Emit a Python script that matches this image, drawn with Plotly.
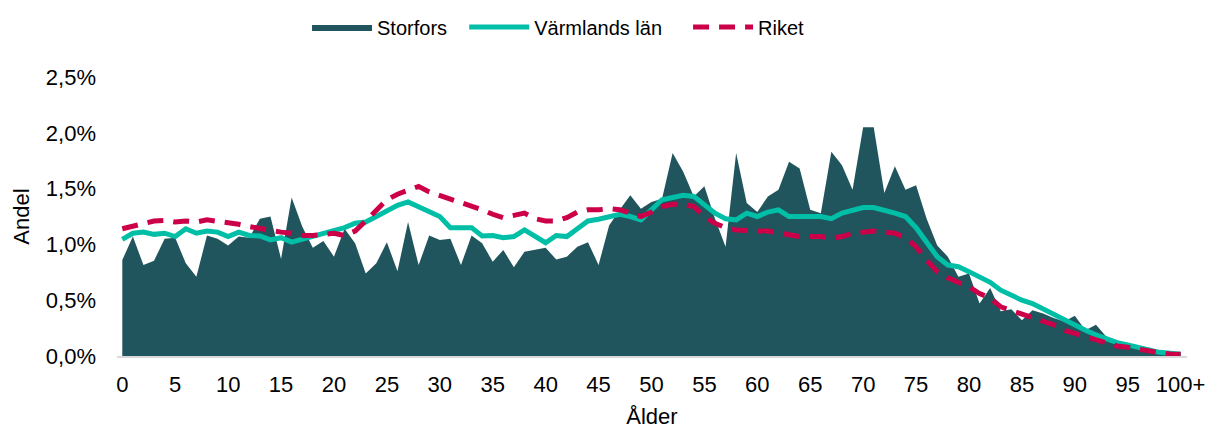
import plotly.graph_objects as go

ages = list(range(0, 101))
tick_vals = list(range(0, 101, 5))
tick_text = [str(v) for v in range(0, 100, 5)] + ["100+"]

storfors = [0.86, 1.07, 0.815, 0.854, 1.05, 1.06, 0.83, 0.71, 1.08, 1.05,
            0.99, 1.07, 1.06, 1.23, 1.25, 0.87, 1.42, 1.16, 0.97, 1.03,
            0.89, 1.14, 1.01, 0.74, 0.83, 1.02, 0.76, 1.20, 0.815, 1.08,
            1.04, 1.05, 0.815, 1.08, 1.01, 0.845, 0.95, 0.795, 0.935, 0.955,
            0.97, 0.865, 0.89, 0.98, 1.02, 0.815, 1.17, 1.31, 1.44, 1.32,
            1.38, 1.41, 1.82, 1.65, 1.43, 1.52, 1.23, 0.98, 1.82, 1.37,
            1.29, 1.43, 1.49, 1.74, 1.68, 1.31, 1.28, 1.83, 1.71, 1.49,
            2.05, 2.05, 1.46, 1.70, 1.49, 1.53, 1.23, 0.99, 0.89, 0.71,
            0.74, 0.47, 0.61, 0.40, 0.42, 0.32, 0.41, 0.38, 0.34, 0.31,
            0.36, 0.23, 0.28, 0.17, 0.13, 0.10, 0.07, 0.05, 0.03, 0.02,
            0.02]

varmland = [1.045, 1.10, 1.11, 1.09, 1.10, 1.07, 1.14, 1.10, 1.12, 1.11,
            1.07, 1.11, 1.08, 1.075, 1.04, 1.06, 1.02, 1.045, 1.08, 1.10,
            1.12, 1.15, 1.19, 1.20, 1.25, 1.30, 1.35, 1.38, 1.34, 1.29,
            1.25, 1.15, 1.155, 1.15, 1.075, 1.08, 1.06, 1.07, 1.13, 1.075,
            1.015, 1.08, 1.07, 1.14, 1.21, 1.225, 1.25, 1.27, 1.25, 1.22,
            1.31, 1.40, 1.42, 1.44, 1.43, 1.35, 1.28, 1.23, 1.22, 1.28,
            1.25, 1.29, 1.31, 1.25, 1.245, 1.25, 1.25, 1.23, 1.28, 1.30,
            1.33, 1.33, 1.31, 1.28, 1.25, 1.15, 1.02, 0.89, 0.815, 0.80,
            0.756, 0.71, 0.66, 0.59, 0.54, 0.50, 0.47, 0.42, 0.38, 0.33,
            0.28, 0.23, 0.19, 0.15, 0.12, 0.10, 0.078, 0.054, 0.033, 0.024,
            0.015]

riket = [1.14, 1.16, 1.19, 1.21, 1.215, 1.20, 1.21, 1.20, 1.22, 1.21,
         1.19, 1.18, 1.16, 1.14, 1.12, 1.11, 1.10, 1.08, 1.08, 1.09,
         1.10, 1.08, 1.12, 1.21, 1.31, 1.40, 1.45, 1.48, 1.52, 1.47,
         1.44, 1.40, 1.37, 1.35, 1.31, 1.27, 1.24, 1.26, 1.28, 1.23,
         1.21, 1.21, 1.24, 1.29, 1.31, 1.31, 1.32, 1.31, 1.28, 1.25,
         1.29, 1.34, 1.36, 1.36, 1.34, 1.25, 1.19, 1.15, 1.13, 1.12,
         1.12, 1.12, 1.10, 1.09, 1.07, 1.07, 1.07, 1.055, 1.07, 1.10,
         1.11, 1.12, 1.11, 1.10, 1.06, 0.98, 0.86, 0.756, 0.70, 0.66,
         0.62, 0.56, 0.52, 0.44, 0.41, 0.38, 0.34, 0.31, 0.28, 0.23,
         0.20, 0.17, 0.14, 0.11, 0.09, 0.078, 0.06, 0.048, 0.03, 0.018,
         0.015]

y_ticks = [0, 0.5, 1.0, 1.5, 2.0, 2.5]
y_tick_text = ["0,0%", "0,5%", "1,0%", "1,5%", "2,0%", "2,5%"]

FONT = "Liberation Sans, Arial, sans-serif"

fig = go.Figure()
fig.add_trace(go.Scatter(
    x=ages, y=storfors, name="Storfors", mode="lines",
    fill="tozeroy", fillcolor="#21555E",
    line=dict(color="#21555E", width=0), legend="legend",
))
fig.add_trace(go.Scatter(
    x=ages, y=varmland, name="Värmlands län", mode="lines",
    line=dict(color="#00BFA6", width=5), legend="legend2",
))
fig.add_trace(go.Scatter(
    x=ages, y=riket, name="Riket", mode="lines",
    line=dict(color="#CC0048", width=5, dash="16px,10px"), legend="legend3",
))

leg_common = dict(orientation="h", y=1.179, yanchor="middle", xanchor="left",
                  font=dict(size=20), itemwidth=60, bgcolor="rgba(0,0,0,0)")

fig.update_layout(
    width=1213, height=430,
    margin=dict(l=117, r=26, t=77, b=74, autoexpand=False),
    paper_bgcolor="white", plot_bgcolor="white",
    font=dict(family=FONT, size=22, color="#000000"),
    showlegend=True,
    legend=dict(x=0.1776, **leg_common),
    legend2=dict(x=0.3245, **leg_common),
    legend3=dict(x=0.5337, **leg_common),
    xaxis=dict(
        range=[-0.5, 100.6], tickmode="array", tickvals=tick_vals, ticktext=tick_text,
        showgrid=False, zeroline=False, showline=True, linecolor="#D9D9D9", linewidth=2,
        ticks="", tickfont=dict(size=22), automargin=False, ticklabelstandoff=8,
        title=dict(text="Ålder", font=dict(size=22), standoff=12),
    ),
    yaxis=dict(
        range=[0, 2.5], tickmode="array", tickvals=y_ticks, ticktext=y_tick_text,
        showgrid=False, zeroline=False, showline=False,
        ticks="", tickfont=dict(size=22), ticklabelstandoff=20, automargin=False,
        title=dict(text="Andel", font=dict(size=22), standoff=10),
    ),
)

fig.write_html("out.html", config={"displayModeBar": False},
               post_script="document.body.style.margin='0';")
